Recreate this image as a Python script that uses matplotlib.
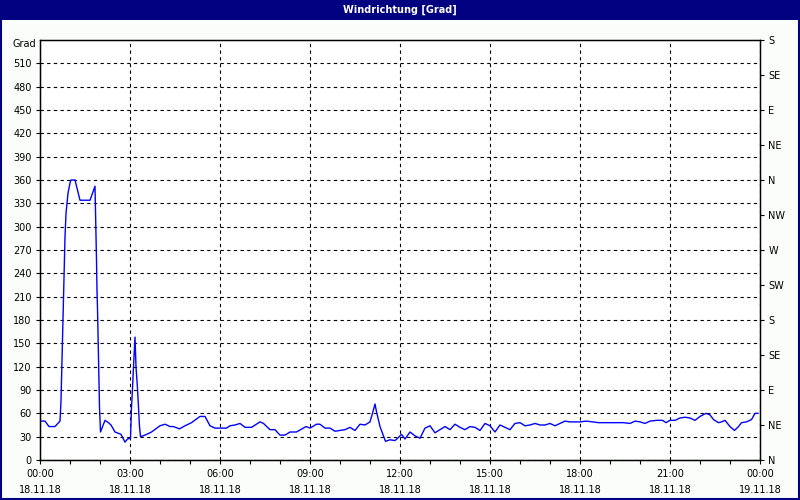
import matplotlib
matplotlib.use("Agg")
import matplotlib.pyplot as plt
from matplotlib.patches import Rectangle
from matplotlib.ticker import MultipleLocator, FixedLocator

# time in minutes since 18.11.18 00:00, wind direction in degrees
minutes = [0, 10, 18, 30, 40, 42, 44, 46, 48, 50, 52, 54, 56, 60, 62, 70, 80, 100, 110,
           111, 113, 114, 115, 117, 119, 121, 130, 137, 142, 150, 162, 170, 175, 181,
           183, 185, 187, 190, 192, 195, 199, 201, 210, 223, 240, 250, 260, 267, 279,
           290, 303, 320, 330, 340, 350, 373, 380, 390, 400, 410, 423, 440, 447, 460,
           470, 480, 490, 500, 513, 532, 540, 553, 560, 570, 580, 590, 610, 620, 630,
           640, 650, 660, 665, 670, 673, 680, 691, 700, 710, 717, 723, 730, 740, 750,
           760, 770, 780, 790, 800, 810, 820, 830, 840, 850, 860, 870, 880, 890, 900,
           910, 920, 930, 940, 950, 960, 970, 980, 990, 1000, 1010, 1020, 1030, 1040,
           1050, 1060, 1080, 1093, 1117, 1167, 1180, 1190, 1200, 1210, 1220, 1233, 1245,
           1252, 1260, 1270, 1280, 1290, 1300, 1310, 1320, 1332, 1340, 1347, 1357, 1363,
           1370, 1380, 1389, 1397, 1403, 1413, 1423, 1430, 1436]
degrees = [50, 50, 43, 43, 50, 76, 128, 180, 235, 287, 317, 330, 343, 356, 360, 360, 334, 334, 352,
           321, 257, 218, 195, 131, 68, 36, 51, 48, 45, 36, 33, 23, 27, 28,
           68, 92, 120, 158, 120, 92, 43, 30, 32, 36, 44, 46, 43, 43, 40,
           44, 48, 56, 56, 44, 41, 41, 44, 45, 47, 42, 42, 49, 47, 39,
           39, 32, 32, 36, 36, 43, 41, 46, 46, 41, 41, 37, 39, 42, 38,
           46, 45, 49, 60, 72, 62, 43, 24, 26, 25, 29, 33, 27, 36, 31,
           28, 41, 44, 35, 39, 43, 39, 46, 42, 39, 43, 42, 38, 47, 44,
           36, 45, 42, 39, 47, 48, 44, 45, 47, 45, 45, 47, 44, 47,
           50, 49, 49, 50, 48, 48, 47, 50, 49, 47, 50, 51, 51,
           48, 51, 51, 54, 55, 54, 51, 56, 60, 58, 52, 48, 49,
           51, 43, 38, 43, 48, 49, 52, 60, 60]

x_ticks_h = [0, 3, 6, 9, 12, 15, 18, 21, 24]
x_labels = ["00:00\n18.11.18", "03:00\n18.11.18", "06:00\n18.11.18", "09:00\n18.11.18",
            "12:00\n18.11.18", "15:00\n18.11.18", "18:00\n18.11.18", "21:00\n18.11.18",
            "00:00\n19.11.18"]
y_left_ticks = list(range(0, 540, 30))
compass_vals = [0, 45, 90, 135, 180, 225, 270, 315, 360, 405, 450, 495, 540]
compass_labels = ["N", "NE", "E", "SE", "S", "SW", "W", "NW", "N", "NE", "E", "SE", "S"]
title = "Windrichtung [Grad]"

plt.rcParams['font.family'] = ['DejaVu Sans']
fs = 7

fig = plt.figure(figsize=(8, 5), dpi=100, facecolor='#fbfdfb')
ax = fig.add_axes([0.05, 0.08, 0.90, 0.84])
ax.set_facecolor('white')

hours = [m / 60 for m in minutes]
ax.plot(hours, degrees, color='#0000ff', lw=1.0)

ax.set_xlim(0, 24)
ax.set_ylim(0, 540)
ax.xaxis.set_major_locator(FixedLocator(x_ticks_h))
ax.set_xticklabels(x_labels, fontsize=fs, linespacing=1.7)
ax.xaxis.set_minor_locator(MultipleLocator(1))
ax.yaxis.set_major_locator(FixedLocator(y_left_ticks))
ax.set_yticklabels([str(v) for v in y_left_ticks], fontsize=fs)
ax.tick_params(axis='both', which='both', direction='out', length=3, width=0.8,
               color='black', pad=3)
ax.tick_params(axis='x', which='major', pad=3.5)
ax.grid(True, which='major', color='black', linestyle=(0, (3, 3)), linewidth=0.8)
for s in ax.spines.values():
    s.set_linewidth(1.0)
    s.set_color('black')

ax2 = ax.twinx()
ax2.set_ylim(0, 540)
ax2.yaxis.set_major_locator(FixedLocator(compass_vals))
ax2.set_yticklabels(compass_labels, fontsize=fs)
ax2.tick_params(axis='y', direction='out', length=3, width=0.8, pad=3)

fig.text(0.045, 0.912, "Grad", fontsize=fs, ha='right', va='center')

# title bar and border
fig.patches.append(Rectangle((0, 0.96), 1, 0.04, transform=fig.transFigure,
                             facecolor='#000080', edgecolor='none', zorder=-1))
fig.text(0.5, 0.98, title, fontsize=fs, color='white', fontweight='bold',
         ha='center', va='center')
fig.patches.append(Rectangle((0.001, 0.002), 0.998, 0.996, transform=fig.transFigure,
                             facecolor='none', edgecolor='#000080', linewidth=1.5))

fig.savefig("out.png", dpi=100, facecolor=fig.get_facecolor())
